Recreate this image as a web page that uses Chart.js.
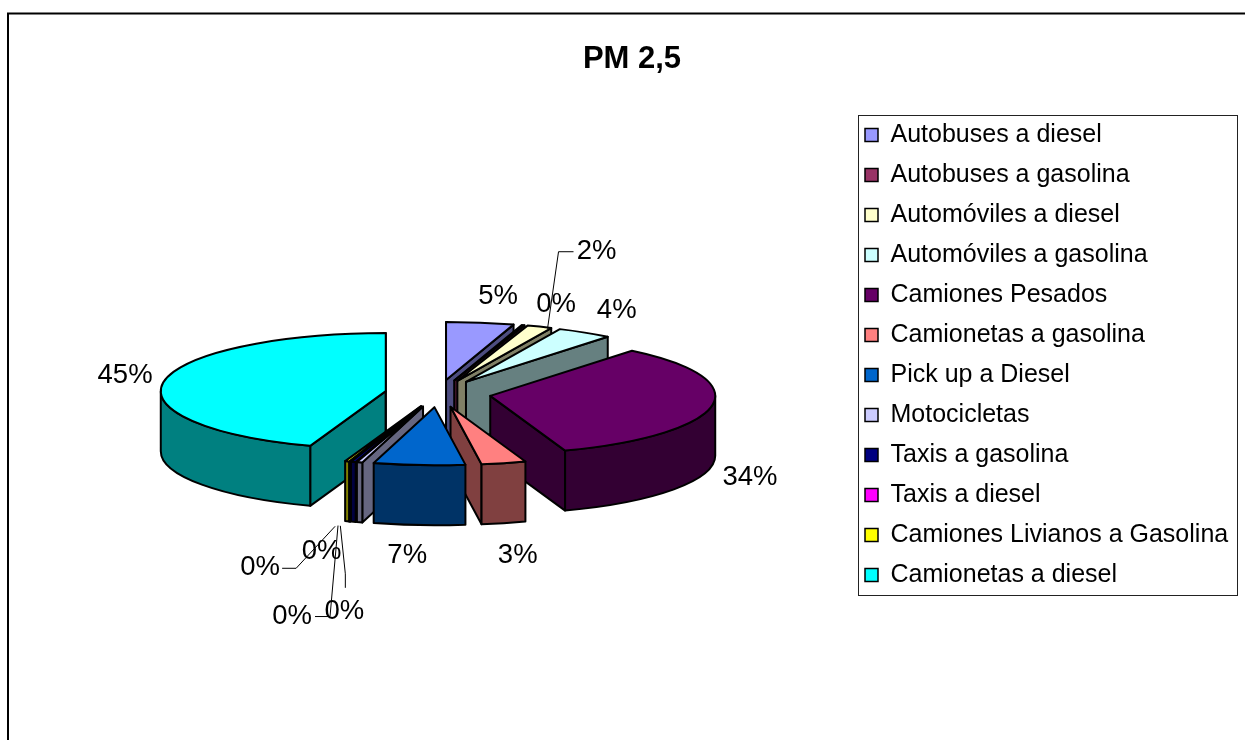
<!DOCTYPE html>
<html>
<head>
<meta charset="utf-8">
<title>PM 2,5</title>
<script src="https://cdn.jsdelivr.net/npm/chart.js@4/dist/chart.umd.js"></script>
<style>
    html, body { margin: 0; padding: 0; background: #fff; overflow: hidden; }
    canvas { display: block; }
</style>
</head>
<body>
<canvas id="pieChart" width="1245" height="740"></canvas>
<script>
const categories = ['Autobuses a diesel', 'Autobuses a gasolina', 'Automóviles a diesel', 'Automóviles a gasolina',
    'Camiones Pesados', 'Camionetas a gasolina', 'Pick up a Diesel', 'Motocicletas', 'Taxis a gasolina',
    'Taxis a diesel', 'Camiones Livianos a Gasolina', 'Camionetas a diesel'];
const shares = [4.85, 0.2, 1.8, 4.0, 33.75, 3.2, 6.55, 0.4, 0.35, 0.05, 0.3, 44.55];
const topColors = ['#9999FF', '#993366', '#FFFFCC', '#CCFFFF', '#660066', '#FF8080', '#0066CC', '#CCCCFF', '#000080', '#FF00FF', '#FFFF00', '#00FFFF'];
const wallColors = ['#4D4D80', '#4D1A33', '#808066', '#668080', '#330033', '#804040', '#003366', '#666680', '#000040', '#800080', '#808000', '#008080'];

// Ajustes del dibujo 3D
const squash = 0.258;
const explode = 53;
const depth = 60;
const pieRadius = 225;
const textFont = '"Liberation Sans", Arial, sans-serif';

// Desplazamiento de cada etiqueta respecto al borde de su sector
const labelShift = [[18, -26], [33, -21], [57, -75], [32, -22], [38, 72], [14, 92], [-12, 90], [-38, 89], [-9, 150], [-58, 155], [-87, 106], [-39, -6]];
// Líneas guía, relativas a la etiqueta
const leaders = {
    2: [[-23, 0], [-38, 0], [-49, 77]],
    8: [[1, -24], [1, -38], [-4, -86]],
    9: [[23, 0], [38, 0], [46, -91]],
    10: [[22, 1], [36, 1], [75, -41]]
};

const geometry = arc => {
    const {x, y, startAngle, endAngle, outerRadius} = arc.getProps(['x', 'y', 'startAngle', 'endAngle', 'outerRadius'], true);
    const mid = (startAngle + endAngle) / 2;
    return {
        start: startAngle, end: endAngle, mid, rx: outerRadius, ry: outerRadius * squash,
        cx: x, cy: y,
        px: x + Math.cos(mid) * explode,
        py: y + Math.sin(mid) * explode * squash
    };
};

const edgePoint = (g, angle) => [g.px + Math.cos(angle) * g.rx, g.py + Math.sin(angle) * g.ry];

const strokeFill = (ctx, color) => {
    ctx.fillStyle = color;
    ctx.fill();
    ctx.stroke();
};

const drawFace = (ctx, g, angle, color) => {
    const [ex, ey] = edgePoint(g, angle);
    ctx.beginPath();
    ctx.moveTo(g.px, g.py);
    ctx.lineTo(ex, ey);
    ctx.lineTo(ex, ey + depth);
    ctx.lineTo(g.px, g.py + depth);
    ctx.closePath();
    strokeFill(ctx, color);
};

const drawWalls = (ctx, g, color) => {
    if (Math.cos(g.start) < 0.001) drawFace(ctx, g, g.start, color);
    if (Math.cos(g.end) > -0.001) drawFace(ctx, g, g.end, color);

    // Pared exterior: solo la mitad delantera de la elipse
    const from = Math.max(g.start, 0);
    const to = Math.min(g.end, Math.PI);
    if (to > from) {
        ctx.beginPath();
        ctx.ellipse(g.px, g.py, g.rx, g.ry, 0, from, to);
        ctx.ellipse(g.px, g.py + depth, g.rx, g.ry, 0, to, from, true);
        ctx.closePath();
        strokeFill(ctx, color);
    }
};

const pie3d = {
    id: 'pie3d',
    beforeDraw(chart) {
        const ctx = chart.ctx;
        ctx.save();
        ctx.fillStyle = '#fff';
        ctx.fillRect(0, 0, chart.width, chart.height);
        ctx.strokeStyle = '#000';
        ctx.lineWidth = 2;
        ctx.beginPath();
        ctx.moveTo(8, chart.height);
        ctx.lineTo(8, 13.5);
        ctx.lineTo(chart.width, 13.5);
        ctx.stroke();
        ctx.restore();
    },
    beforeDatasetDraw(chart, args) {
        const ctx = chart.ctx;
        const arcs = args.meta.data;
        const shapes = arcs.map(geometry);

        ctx.save();
        ctx.strokeStyle = '#000';
        ctx.lineWidth = 2;
        ctx.lineJoin = 'round';

        // Paredes de atrás hacia adelante
        shapes.map((g, i) => i)
            .sort((a, b) => Math.sin(shapes[a].mid) - Math.sin(shapes[b].mid))
            .forEach(i => drawWalls(ctx, shapes[i], wallColors[i]));

        // Caras superiores: las dibuja el propio arco de Chart.js, aplastado
        arcs.forEach((arc, i) => {
            const g = shapes[i];
            ctx.save();
            ctx.translate(g.px, g.py);
            ctx.scale(1, squash);
            ctx.translate(-g.cx, -g.cy);
            arc.draw(ctx);
            ctx.restore();
        });

        shapes.forEach(g => {
            ctx.beginPath();
            ctx.moveTo(g.px, g.py);
            ctx.ellipse(g.px, g.py, g.rx, g.ry, 0, g.start, g.end);
            ctx.closePath();
            ctx.stroke();
        });
        ctx.restore();
        return false;
    },
    afterDatasetsDraw(chart) {
        const ctx = chart.ctx;
        const total = shares.reduce((a, b) => a + b, 0);
        ctx.save();
        ctx.font = '27.5px ' + textFont;
        ctx.textAlign = 'center';
        ctx.textBaseline = 'middle';
        ctx.fillStyle = '#000';
        ctx.strokeStyle = '#000';
        ctx.lineWidth = 1;
        chart.getDatasetMeta(0).data.forEach((arc, i) => {
            const g = geometry(arc);
            const [ax, ay] = edgePoint(g, g.mid);
            const lx = ax + labelShift[i][0];
            const ly = ay + labelShift[i][1];
            if (leaders[i]) {
                ctx.beginPath();
                leaders[i].forEach(([dx, dy], n) => {
                    if (n === 0) ctx.moveTo(lx + dx, ly + dy);
                    else ctx.lineTo(lx + dx, ly + dy);
                });
                ctx.stroke();
            }
            ctx.fillText(Math.round(shares[i] / total * 100) + '%', lx, ly);
        });
        ctx.restore();
    },
    afterDraw(chart) {
        // Marco de la leyenda
        const legend = chart.legend;
        const first = legend.legendHitBoxes[0];
        const last = legend.legendHitBoxes[legend.legendHitBoxes.length - 1];
        const ctx = chart.ctx;
        ctx.save();
        ctx.strokeStyle = '#222';
        ctx.lineWidth = 1;
        ctx.strokeRect(legend.left + 8.5, Math.round(first.top - 8) + 0.5, legend.width - 9, Math.round(last.top + last.height - first.top + 15));
        ctx.restore();
    }
};

new Chart(document.getElementById('pieChart'), {
    type: 'pie',
    data: {
        labels: categories,
        datasets: [{
            data: shares,
            backgroundColor: topColors,
            borderWidth: 0,
            radius: pieRadius
        }]
    },
    options: {
        responsive: false,
        animation: false,
        devicePixelRatio: 1,
        events: [],
        layout: { padding: { left: 26, right: 7, top: 0, bottom: 60.5 } },
        plugins: {
            tooltip: { enabled: false },
            title: {
                display: true,
                text: 'PM 2,5',
                color: '#000',
                font: { family: textFont, size: 31, weight: 'bold', lineHeight: 1.2 },
                padding: { top: 40.4, bottom: 29.9 }
            },
            legend: {
                position: 'right',
                align: 'start',
                fullSize: false,
                maxWidth: 388,
                labels: {
                    boxWidth: 13,
                    boxHeight: 13,
                    padding: 15,
                    color: '#000',
                    font: { family: textFont, size: 25 },
                    generateLabels: () => categories.map((text, i) => ({
                        text,
                        fillStyle: topColors[i],
                        strokeStyle: '#000',
                        lineWidth: 1.5,
                        hidden: false,
                        index: i
                    }))
                }
            }
        }
    },
    plugins: [pie3d]
});
</script>
</body>
</html>
